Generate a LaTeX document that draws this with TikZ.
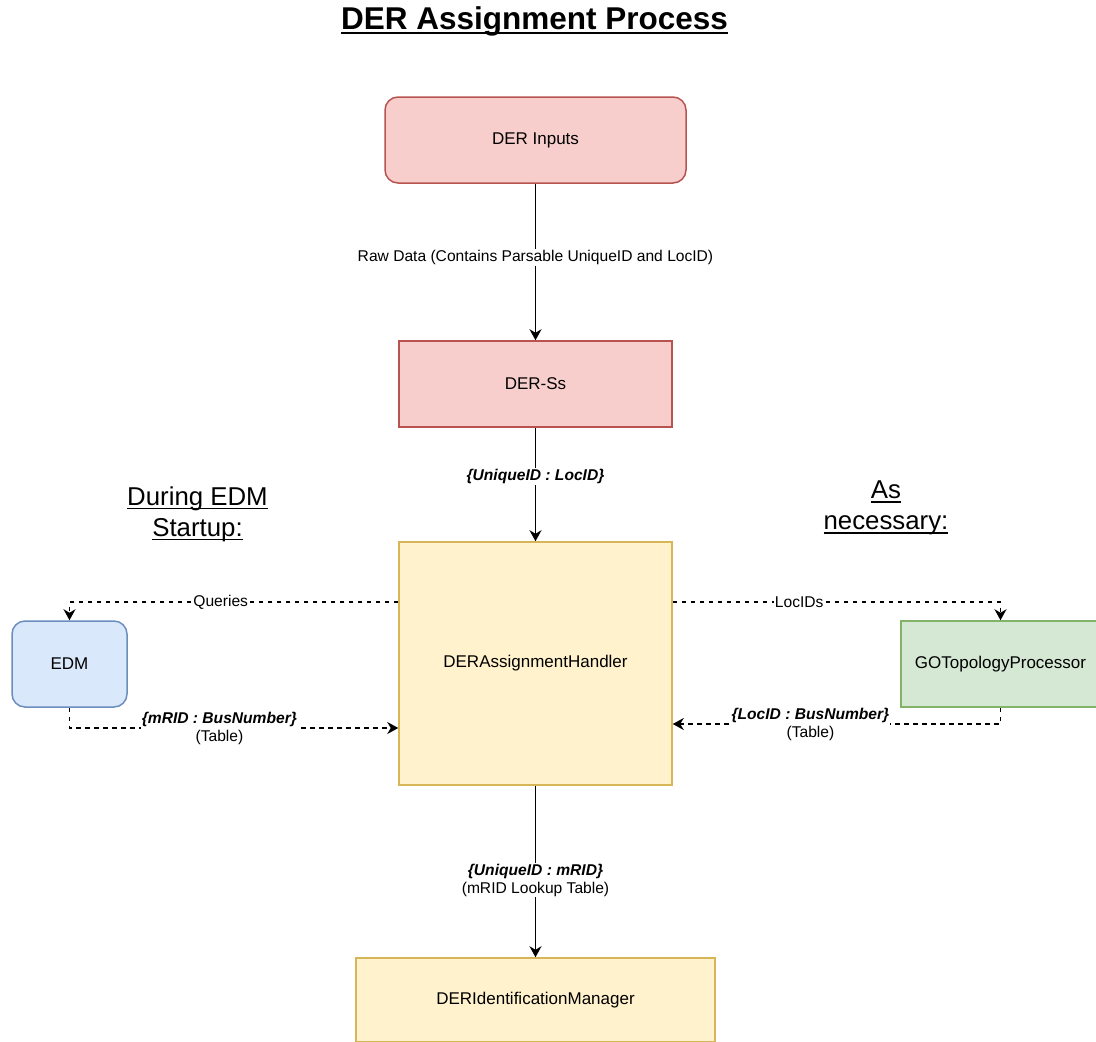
\documentclass[tikz,border=0pt]{standalone}
\usepackage{fontspec}
\setmainfont{Liberation Sans}
\usetikzlibrary{arrows.meta,calc}

\definecolor{redfill}{HTML}{F8CECC}
\definecolor{redline}{HTML}{B85450}
\definecolor{yelfill}{HTML}{FFF2CC}
\definecolor{yelline}{HTML}{D6B656}
\definecolor{bluefill}{HTML}{DAE8FC}
\definecolor{blueline}{HTML}{6C8EBF}
\definecolor{grnfill}{HTML}{D5E8D4}
\definecolor{grnline}{HTML}{82B366}

% underline with given thickness (#1) and drop below the baseline (#2)
\newcommand\ulfat[3]{\leavevmode\setbox0\hbox{#3}\rlap{\rule[-#2]{\wd0}{#1}}\box0}

\tikzset{
  box/.style={draw, line width=1.5pt, inner sep=0pt, align=center,
    font=\fontsize{17}{20.4}\selectfont},
  redbox/.style={box, fill=redfill, draw=redline},
  yelbox/.style={box, fill=yelfill, draw=yelline},
  bluebox/.style={box, fill=bluefill, draw=blueline},
  grnbox/.style={box, fill=grnfill, draw=grnline},
  roundbox/.style={rounded corners=13pt},
  flow/.style={line width=1.6pt, -{Stealth[length=11pt,width=12pt,inset=3.5pt]}},
  dashflow/.style={flow, dash pattern=on 4.5pt off 4.5pt},
  lbl/.style={fill=white, inner sep=1pt, align=center,
    font=\fontsize{15.6}{18}\selectfont},
  sidenote/.style={align=center, font=\fontsize{25.8}{31}\selectfont},
}

\begin{document}
\begin{tikzpicture}[x=1pt, y=-1pt]
  \useasboundingbox (0,0) rectangle (1096,1042);

  % heading
  \node[font=\fontsize{31.5}{36}\selectfont\bfseries] (title) at (534.5,21)
    {\ulfat{2.4pt}{5pt}{DER Assignment Process}};

  % side notes
  \node[sidenote] (startup) at (197.5,514)
    {\ulfat{1.6pt}{4pt}{During EDM}\\\ulfat{1.6pt}{4pt}{Startup:}};
  \node[sidenote] (asneeded) at (886,508)
    {\ulfat{1.6pt}{4pt}{As}\\\ulfat{1.6pt}{4pt}{necessary:}};

  % components
  \node[redbox, roundbox, minimum width=301pt, minimum height=86pt] (derin) at (535.5,140) {DER Inputs};
  \node[redbox, minimum width=273pt, minimum height=86pt] (derss) at (535.5,384) {DER-Ss};
  \node[yelbox, minimum width=273pt, minimum height=243pt] (handler) at (535.5,663.5) {DERAssignmentHandler};
  \node[bluebox, roundbox, minimum width=115pt, minimum height=86pt] (edm) at (69.5,664) {EDM};
  \node[grnbox, minimum width=199pt, minimum height=86pt] (go) at (1000.5,664) {GOTopologyProcessor};
  \node[yelbox, minimum width=359pt, minimum height=84pt] (idm) at (535.5,1000) {DERIdentificationManager};

  % main flow
  \draw[flow] (derin) -- node[lbl, pos=0.47] {Raw Data (Contains Parsable UniqueID and LocID)} (derss);
  \draw[flow] (derss) -- node[lbl, pos=0.43] {\textbf{\textit{\{UniqueID : LocID\}}}} (handler);
  \draw[flow] (handler) -- node[lbl, pos=0.55]
    {\textbf{\textit{\{UniqueID : mRID\}}}\\(mRID Lookup Table)} (idm);

  % EDM exchange
  \draw[dashflow] ([yshift=-61pt]handler.north west) -| node[lbl, pos=0.27] {Queries} (edm.north);
  \draw[dashflow] (edm.south) |- node[lbl, pos=0.728]
    {\textbf{\textit{\{mRID : BusNumber\}}}\\(Table)} ([yshift=-64.5pt]handler.west);

  % topology exchange
  \draw[dashflow] ([yshift=-61pt]handler.north east) -| node[lbl, pos=0.193] {LocIDs} (go.north);
  \draw[dashflow] (go.south) |- node[lbl, pos=0.79]
    {\textbf{\textit{\{LocID : BusNumber\}}}\\(Table)} ([yshift=-60.5pt]handler.east);
\end{tikzpicture}
\end{document}
